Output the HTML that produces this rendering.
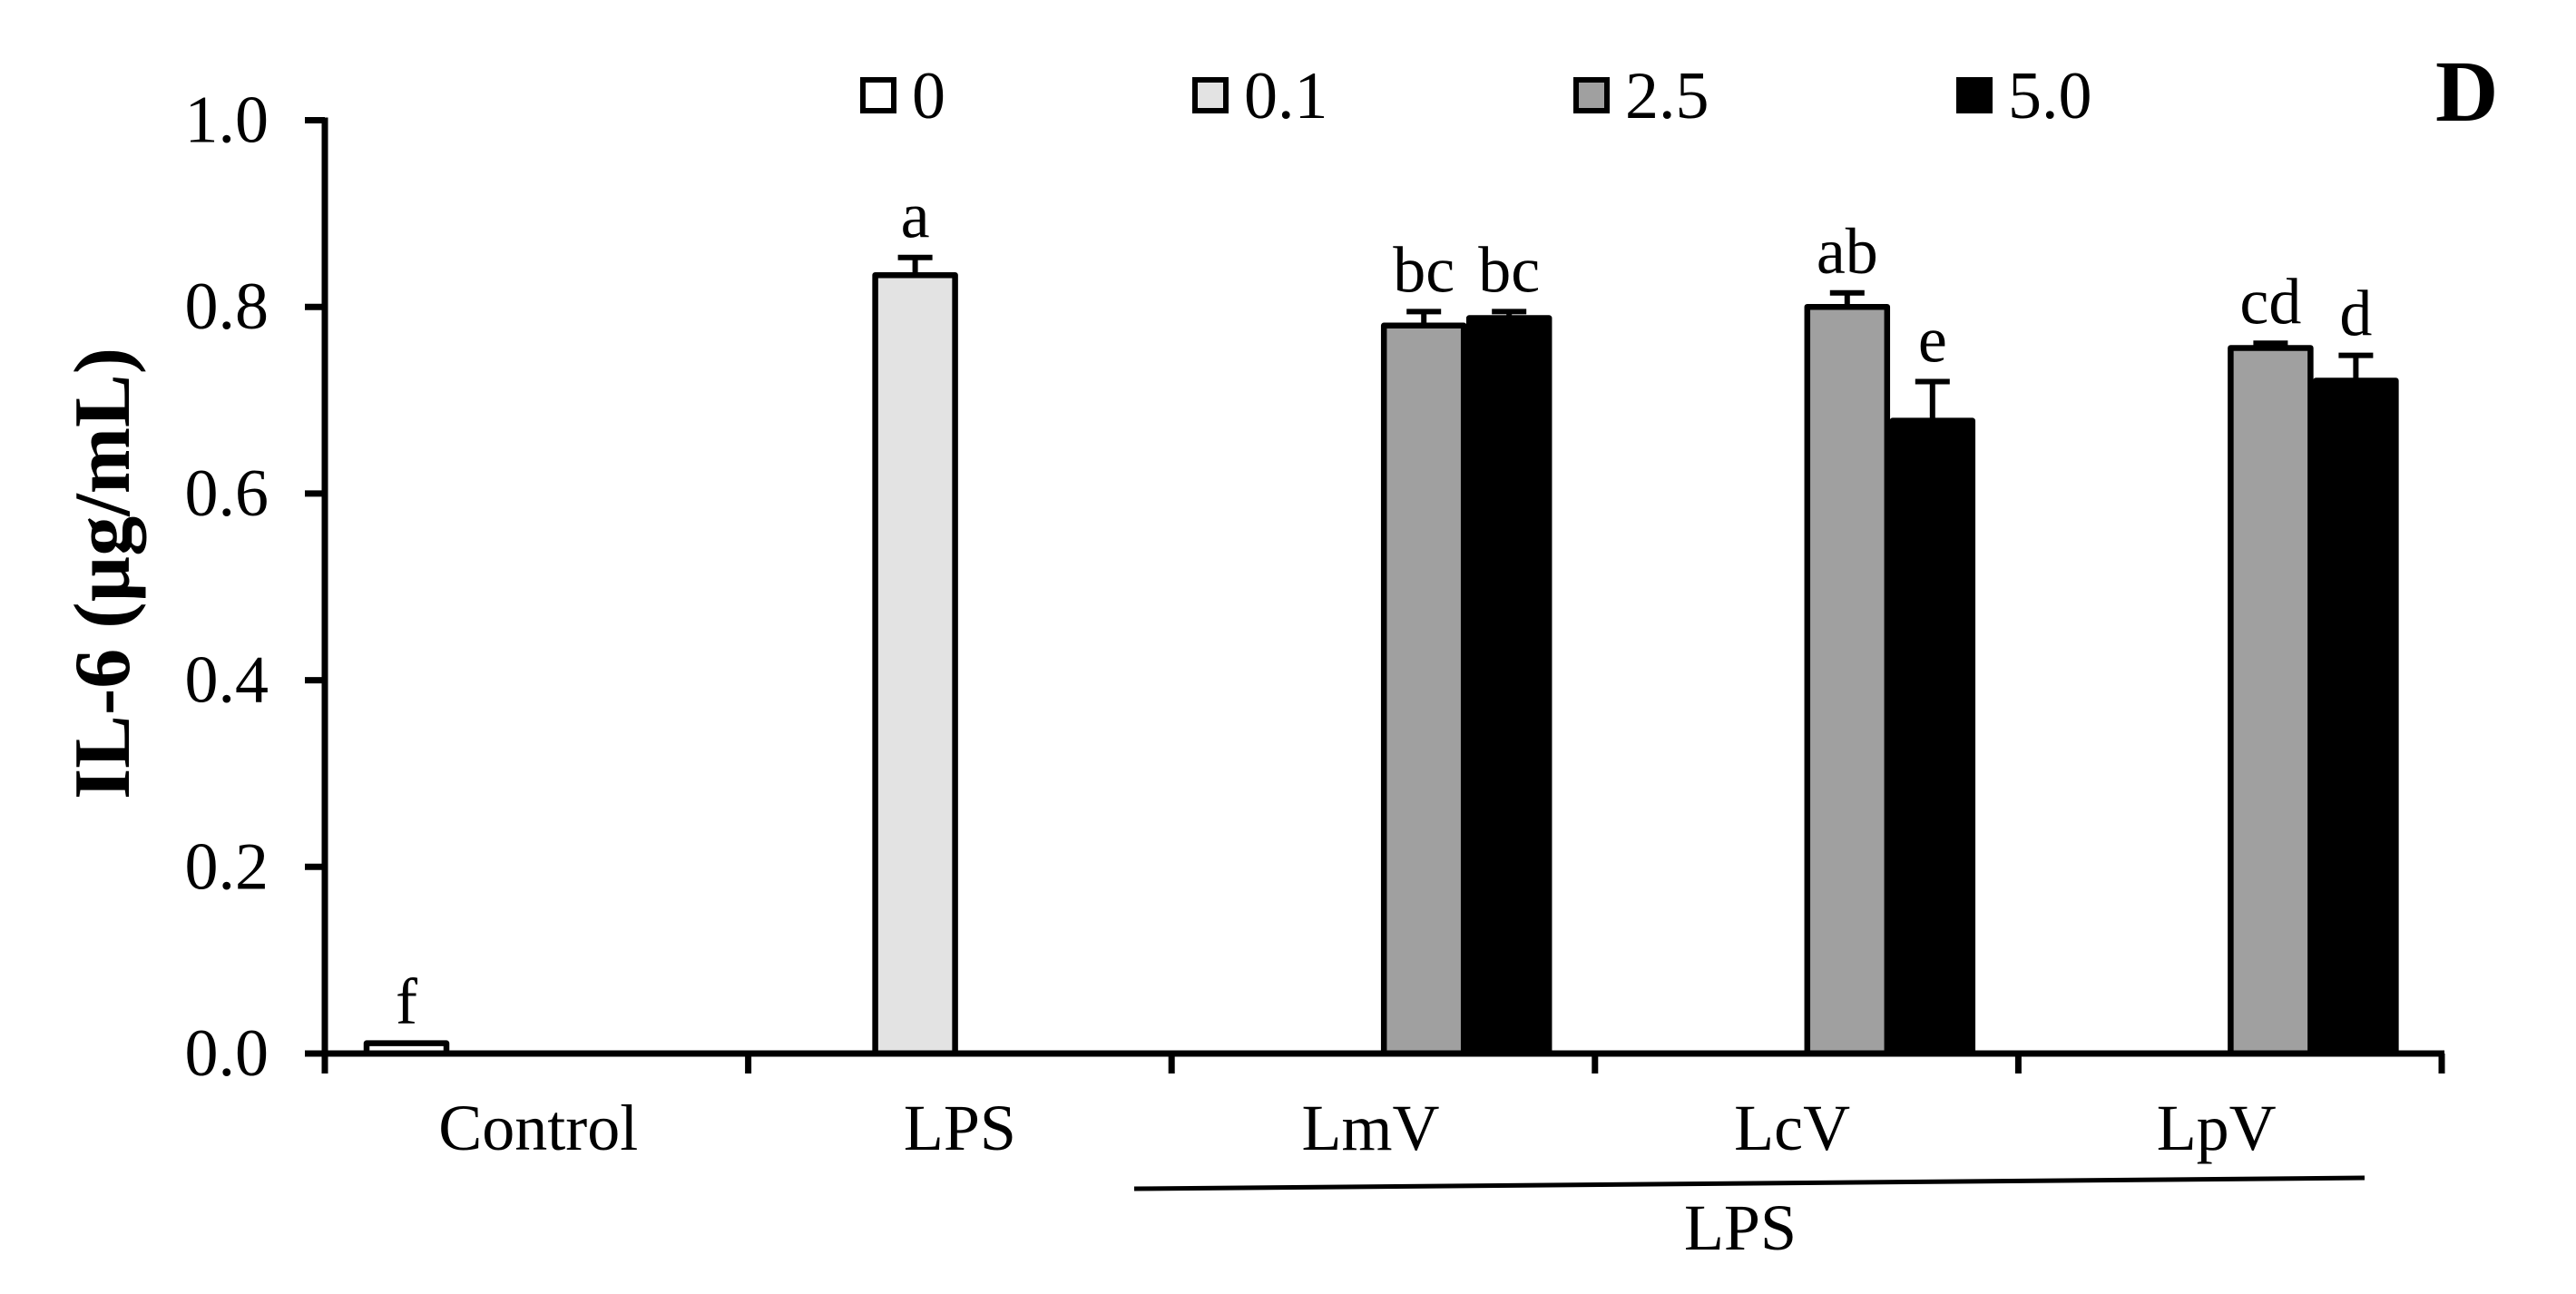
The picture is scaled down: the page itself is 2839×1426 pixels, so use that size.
<!DOCTYPE html>
<html><head><meta charset="utf-8"><style>
html,body{margin:0;padding:0;background:#fff;}
svg{display:block;font-family:"Liberation Serif","Times New Roman",serif;}
</style></head><body>
<svg id="chart" width="2839" height="1426" viewBox="0 0 2839 1426" xmlns="http://www.w3.org/2000/svg">
<g id="plot"></g>
</svg>
<script>
const categories = ["Control","LPS","LmV","LcV","LpV"];
const seriesNames = ["0","0.1","2.5","5.0"];
const seriesColors = ["#ffffff","#e3e3e3","#a0a0a0","#000000"];
const values0  = [0.011, null, null, null, null];
const values01 = [null, 0.834, null, null, null];
const values25 = [null, null, 0.780, 0.800, 0.756];
const values50 = [null, null, 0.788, 0.678, 0.721];
const errors0  = [0.0, null, null, null, null];
const errors01 = [null, 0.019, null, null, null];
const errors25 = [null, null, 0.015, 0.015, 0.005];
const errors50 = [null, null, 0.007, 0.042, 0.027];
const letters0  = ["f", null, null, null, null];
const letters01 = [null, "a", null, null, null];
const letters25 = [null, null, "bc", "ab", "cd"];
const letters50 = [null, null, "bc", "e", "d"];
const yTicks = [0, 0.2, 0.4, 0.6, 0.8, 1.0];
const yTickLabels = ["0.0","0.2","0.4","0.6","0.8","1.0"];

const NS = "http://www.w3.org/2000/svg";
const g = document.getElementById("plot");
const X0 = 358, X1 = 2691, Y0 = 1161, Y1 = 132.5;
const groupW = (X1 - X0) / categories.length;
const slotW = 94, margin = 43;
function yScale(v){ return Y0 - (v / 1.0) * (Y0 - Y1); }
function xSlot(ci, si){ return X0 + ci * groupW + margin + si * slotW; }
function mk(tag, attrs){ const e = document.createElementNS(NS, tag); for (const k in attrs) e.setAttribute(k, attrs[k]); g.appendChild(e); return e; }

const allVals = [values0, values01, values25, values50];
const allErrs = [errors0, errors01, errors25, errors50];
const allLets = [letters0, letters01, letters25, letters50];

for (let s = 0; s < 4; s++) {
  for (let c = 0; c < categories.length; c++) {
    const v = allVals[s][c];
    if (v === null) continue;
    const x = xSlot(c, s);
    const yt = yScale(v);
    const r = mk("rect", {x: x + 3, y: yt, width: slotW - 6, height: Y0 - yt, fill: seriesColors[s], stroke: "#000", "stroke-width": 6.5, "stroke-linejoin": "round"});
    
    
    const e = allErrs[s][c];
    const cx = x + slotW / 2;
    const ye = yScale(v + e);
    if (e > 0) {
      const l1 = mk("line", {x1: cx, y1: yt, x2: cx, y2: ye, stroke: "#000", "stroke-width": 6});
      
      
      const l2 = mk("line", {x1: cx - 19, y1: ye, x2: cx + 19, y2: ye, stroke: "#000", "stroke-width": 6});
      
      
    }
    const t = mk("text", {x: cx, y: ye - 22, "font-size": 72, "text-anchor": "middle", fill: "#000"});
    t.textContent = allLets[s][c];
    
    
  }
}

const ya = mk("line", {x1: X0, y1: Y1 - 3, x2: X0, y2: Y0 + 3, stroke: "#000", "stroke-width": 7});


const xa = mk("line", {x1: X0 - 22, y1: Y0, x2: X1 + 3, y2: Y0, stroke: "#000", "stroke-width": 7});


for (let i = 0; i < yTicks.length; i++) {
  const y = yScale(yTicks[i]);
  const tk = mk("line", {x1: X0 - 22, y1: y, x2: X0, y2: y, stroke: "#000", "stroke-width": 7});
  
  
  const tl = mk("text", {x: 296, y: y + 24, "font-size": 74, "text-anchor": "end", fill: "#000"});
  tl.textContent = yTickLabels[i];
  
  
}
for (let c = 0; c <= categories.length; c++) {
  const x = X0 + c * groupW;
  const tk = mk("line", {x1: x, y1: Y0, x2: x, y2: 1183, stroke: "#000", "stroke-width": 7});
  
  
}
const labelShift = [2, 0, -14, -16, -15];
for (let c = 0; c < categories.length; c++) {
  const t = mk("text", {x: X0 + (c + 0.5) * groupW + labelShift[c], y: 1267, "font-size": 72, "text-anchor": "middle", fill: "#000"});
  t.textContent = categories[c];
  
  
}
const bl = mk("line", {x1: 1250, y1: 1310, x2: 2606, y2: 1298, stroke: "#000", "stroke-width": 5});


const blt = mk("text", {x: 1918, y: 1377, "font-size": 72, "text-anchor": "middle", fill: "#000"});
blt.textContent = "LPS";



const yt = mk("text", {x: 0, y: 0, "font-size": 88, "font-weight": "bold", "text-anchor": "middle", transform: "translate(142,632) rotate(-90)", fill: "#000"});
yt.textContent = "IL-6 (µg/mL)";



const legX = [948, 1314, 1734, 2156];
for (let s = 0; s < 4; s++) {
  const r = mk("rect", {x: legX[s] + 3, y: 88, width: 34, height: 34, fill: seriesColors[s], stroke: "#000", "stroke-width": 6});
  
  
  const t = mk("text", {x: legX[s] + 57, y: 130, "font-size": 74, fill: "#000"});
  t.textContent = seriesNames[s];
  
  
}
const d = mk("text", {x: 2684, y: 133, "font-size": 96, "font-weight": "bold", fill: "#000"});
d.textContent = "D";


</script>
</body></html>
